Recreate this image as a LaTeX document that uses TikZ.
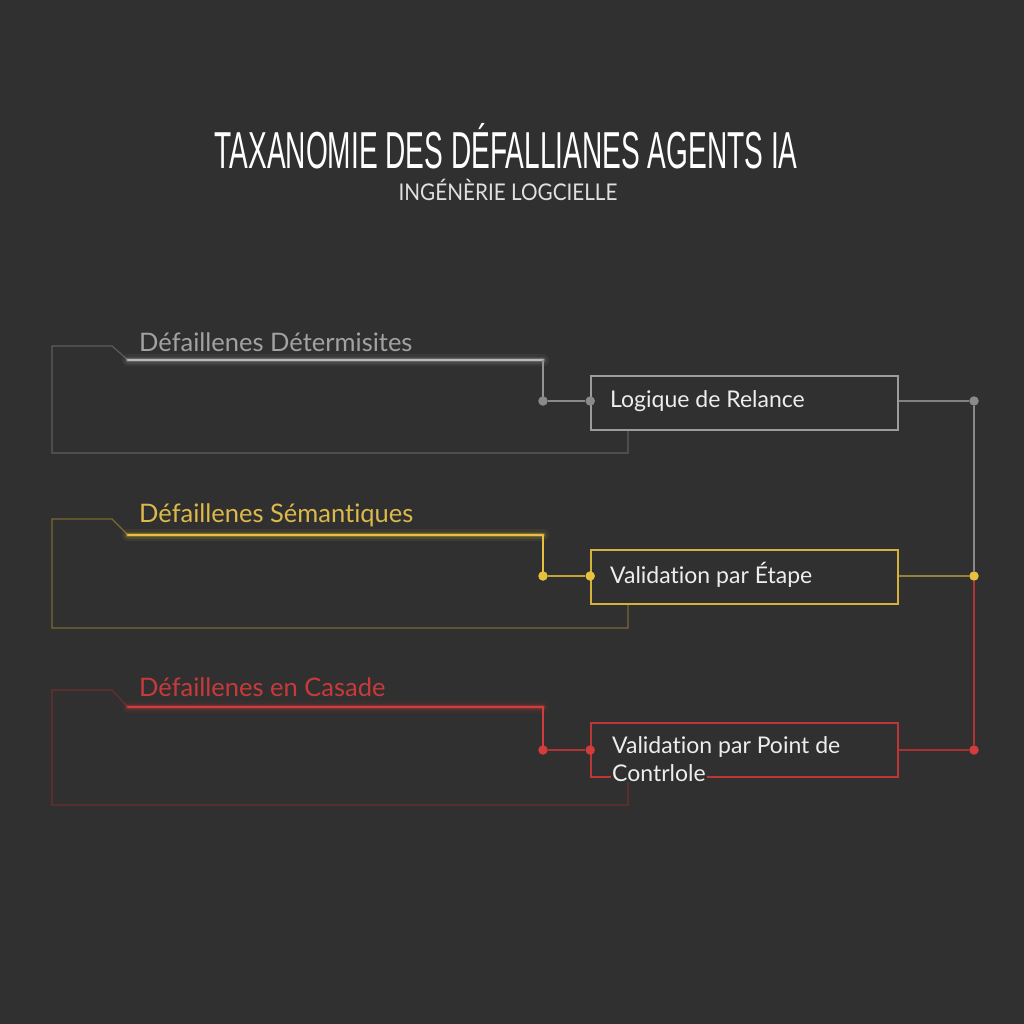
\documentclass[tikz,border=0pt]{standalone}
\usepackage{fontspec}
\setmainfont{Lato}[Ligatures={NoCommon}]
\newfontfamily\titlefont[FakeStretch=0.54]{Liberation Sans}
\newfontfamily\subfont[FakeStretch=0.9]{Lato}
\definecolor{bg}{HTML}{303030}
\definecolor{cgray}{HTML}{B8B8B8}
\definecolor{cgraytxt}{HTML}{A2A2A2}
\definecolor{cgraythin}{HTML}{5E5E5E}
\definecolor{cyel}{HTML}{E8C040}
\definecolor{cyeltxt}{HTML}{DDB84A}
\definecolor{cyelthin}{HTML}{7A6830}
\definecolor{cred}{HTML}{D23C3C}
\definecolor{credtxt}{HTML}{C83A3A}
\definecolor{credthin}{HTML}{6E2E2E}
\definecolor{boxtxt}{HTML}{EDEDED}
\tikzset{
  glowline/.style={line width=2.6pt, #1, line cap=round},
  glowhalo/.style={line width=12pt, #1, opacity=0.07, line cap=round},
  glowhalo2/.style={line width=7pt, #1, opacity=0.12, line cap=round},
  glowhalo3/.style={line width=4.2pt, #1, opacity=0.25, line cap=round},
  outline/.style={line width=1.1pt, #1},
  stepbox/.style={draw=#1, line width=1.6pt, rectangle, minimum width=307pt, minimum height=54pt, inner sep=0pt},
  boxlabel/.style={text=boxtxt, font=\fontsize{23}{27}\selectfont, anchor=west, inner sep=0pt, align=left},
  grouptitle/.style={font=\fontsize{25.5}{30}\selectfont, anchor=west, inner sep=0pt},
  dotpt/.style={circle, fill=#1, minimum size=9.5pt, inner sep=0pt},
  conn/.style={line width=1.2pt, #1},
}
\begin{document}
\begin{tikzpicture}[x=1pt,y=-1pt]
\fill[bg] (0,0) rectangle (1024,1024);
\useasboundingbox (0,0) rectangle (1024,1024);

% Title
\node[text=white, font=\titlefont\fontsize{52}{56}\selectfont, inner sep=0pt] (title) at (506,146) {TAXANOMIE DES DÉFALLIANES AGENTS IA};
\node[text=white!88!black, font=\subfont\fontsize{23}{26}\selectfont, inner sep=0pt] (subtitle) at (508,190) {INGÉNÈRIE LOGCIELLE};

% ---------- Gray group ----------
\draw[outline=cgraythin] (628,430) -- (628,453) -- (52,453) -- (52,346) -- (112,346) -- (128,360);
\draw[glowhalo=cgray] (128,360) -- (543,360);
\draw[glowhalo2=cgray] (128,360) -- (543,360);
\draw[glowhalo3=cgray] (128,360) -- (543,360);
\draw[glowline=cgray] (128,360) -- (543,360);
\draw[conn=cgray!80!black] (543,360) -- (543,401);
\node[grouptitle, text=cgraytxt] (g1title) at (139,342) {Défaillenes Détermisites};
\node[stepbox=cgray!85!black] (box1) at (744.5,403) {};
\node[boxlabel] (box1lbl) at (610,401) {Logique de Relance};
\node[dotpt=cgray!75!black] (d1a) at (543,401) {};
\node[dotpt=cgray!75!black] (d1b) at (box1.west |- d1a) {};
\node[dotpt=cgray!75!black] (d1c) at (974,401) {};
\draw[conn=cgray!75!black] (d1a) -- (d1b);
\draw[conn=cgray!70!black] (box1.east |- d1c) -- (d1c);

% ---------- Yellow group ----------
\draw[outline=cyelthin] (628,604) -- (628,628) -- (52,628) -- (52,519) -- (112,519) -- (128,535);
\draw[glowhalo=cyel] (128,535) -- (543,535);
\draw[glowhalo2=cyel] (128,535) -- (543,535);
\draw[glowhalo3=cyel] (128,535) -- (543,535);
\draw[glowline=cyel] (128,535) -- (543,535);
\draw[conn=cyel] (543,535) -- (543,576);
\node[grouptitle, text=cyeltxt] (g2title) at (139,515) {Défaillenes Sémantiques};
\node[stepbox=cyel!92!black] (box2) at (744.5,577) {};
\node[boxlabel] (box2lbl) at (610,575) {Validation par Étape};
\node[dotpt=cyel] (d2a) at (543,576) {};
\node[dotpt=cyel] (d2b) at (box2.west |- d2a) {};
\node[dotpt=cyel] (d2c) at (974,576) {};
\draw[conn=cyel!85!black] (d2a) -- (d2b);
\draw[conn=cyel!55!bg] (box2.east |- d2c) -- (d2c);

% ---------- Red group ----------
\draw[outline=credthin] (628,777) -- (628,805) -- (52,805) -- (52,690) -- (112,690) -- (128,707);
\draw[glowhalo=cred] (128,707) -- (543,707);
\draw[glowhalo2=cred] (128,707) -- (543,707);
\draw[glowhalo3=cred] (128,707) -- (543,707);
\draw[glowline=cred] (128,707) -- (543,707);
\draw[conn=cred] (543,707) -- (543,750);
\node[grouptitle, text=credtxt] (g3title) at (139,687) {Défaillenes en Casade};
\node[stepbox=cred!90!black] (box3) at (744.5,750) {};
\node[dotpt=cred] (d3a) at (543,750) {};
\node[dotpt=cred] (d3b) at (box3.west |- d3a) {};
\node[dotpt=cred] (d3c) at (974,750) {};
\draw[conn=cred!85!black] (d3a) -- (d3b);
\draw[conn=cred!80!black] (box3.east |- d3c) -- (d3c);
\node[boxlabel, anchor=north west] (box3lbl) at (612,736) {Validation par Point de\\[1pt]{\setlength{\fboxsep}{1pt}\hspace{-1pt}\colorbox{bg}{Contrlole}}};

% ---------- Right rail ----------
\draw[conn=cgray!75!black] (d1c) -- (d2c);
\draw[conn=cred!85!black] (d2c) -- (d3c);
\end{tikzpicture}
\end{document}
